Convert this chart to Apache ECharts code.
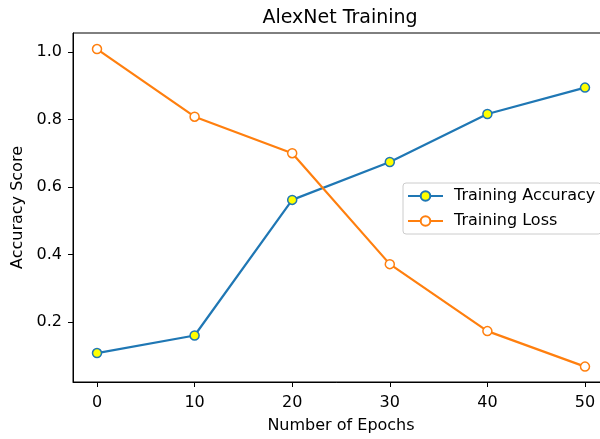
<!DOCTYPE html>
<html>
<head>
<meta charset="utf-8">
<script src="https://cdn.jsdelivr.net/npm/echarts@6/dist/echarts.min.js"></script>
<style>html,body{margin:0;padding:0;background:#fff}#c{width:600px;height:439px}</style>
</head>
<body>
<div id="c"></div>
<script>
const epochs = [0, 10, 20, 30, 40, 50];
const trainingAccuracy = [0.109, 0.161, 0.562, 0.674, 0.816, 0.894];
const trainingLoss = [1.008, 0.808, 0.700, 0.372, 0.174, 0.069];
const xTicks = [0, 10, 20, 30, 40, 50];
const yTicks = [0.2, 0.4, 0.6, 0.8, 1.0];

const font = 'DejaVu Sans';
const chart = echarts.init(document.getElementById('c'), null, {renderer: 'canvas'});
chart.setOption({
  animation: false,
  backgroundColor: '#fff',
  title: {
    text: 'AlexNet Training',
    left: 340, top: 9, textAlign: 'center', padding: 0,
    textStyle: {fontFamily: font, fontSize: 19, fontWeight: 'normal', color: '#000'}
  },
  grid: {left: 73, top: 33, width: 536, height: 349, outerBoundsMode: 'none', show: true, borderColor: '#000', borderWidth: 1, containLabel: false},
  legend: {
    orient: 'vertical', left: 403, top: 183,
    padding: [5, 6, 5, 4],
    itemWidth: 35, itemHeight: 12, itemGap: 9,
    backgroundColor: 'rgba(255,255,255,0.8)',
    borderColor: '#cccccc', borderWidth: 1, borderRadius: 3,
    textStyle: {fontFamily: font, fontSize: 16, color: '#000', padding: [0, 0, 0, 6]},
    data: ['Training Accuracy', 'Training Loss']
  },
  xAxis: {
    type: 'value', min: -2.46, max: 52.46,
    name: 'Number of Epochs', nameLocation: 'middle', nameGap: 36,
    nameTextStyle: {fontFamily: font, fontSize: 16, color: '#000'},
    axisLine: {show: true, onZero: false, lineStyle: {color: '#000', width: 1}},
    axisTick: {show: true, length: 5, lineStyle: {color: '#000'}, customValues: xTicks},
    axisLabel: {fontFamily: font, fontSize: 16, color: '#000', margin: 13, customValues: xTicks, formatter: v => String(v)},
    splitLine: {show: false}
  },
  yAxis: {
    type: 'value', min: 0.0235, max: 1.0555,
    name: 'Accuracy Score', nameLocation: 'middle', nameGap: 44, nameRotate: 90,
    nameTextStyle: {fontFamily: font, fontSize: 16, color: '#000'},
    axisLine: {show: true, onZero: false, lineStyle: {color: '#000', width: 1}},
    axisTick: {show: true, length: 5, lineStyle: {color: '#000'}, customValues: yTicks},
    axisLabel: {fontFamily: font, fontSize: 16, color: '#000', margin: 11, customValues: yTicks, formatter: v => v.toFixed(1)},
    splitLine: {show: false}
  },
  series: [
    {
      name: 'Training Accuracy', type: 'line',
      data: epochs.map((e, i) => [e, trainingAccuracy[i]]),
      symbol: 'circle', symbolSize: 9, showAllSymbol: true,
      lineStyle: {color: '#1f77b4', width: 2.2},
      itemStyle: {color: '#ffff00', borderColor: '#1f77b4', borderWidth: 1.5},
      color: '#1f77b4', clip: false
    },
    {
      name: 'Training Loss', type: 'line',
      data: epochs.map((e, i) => [e, trainingLoss[i]]),
      symbol: 'circle', symbolSize: 9, showAllSymbol: true,
      lineStyle: {color: '#ff7f0e', width: 2.2},
      itemStyle: {color: '#ffffff', borderColor: '#ff7f0e', borderWidth: 1.5},
      color: '#ff7f0e', clip: false
    }
  ]
});
</script>
</body>
</html>
